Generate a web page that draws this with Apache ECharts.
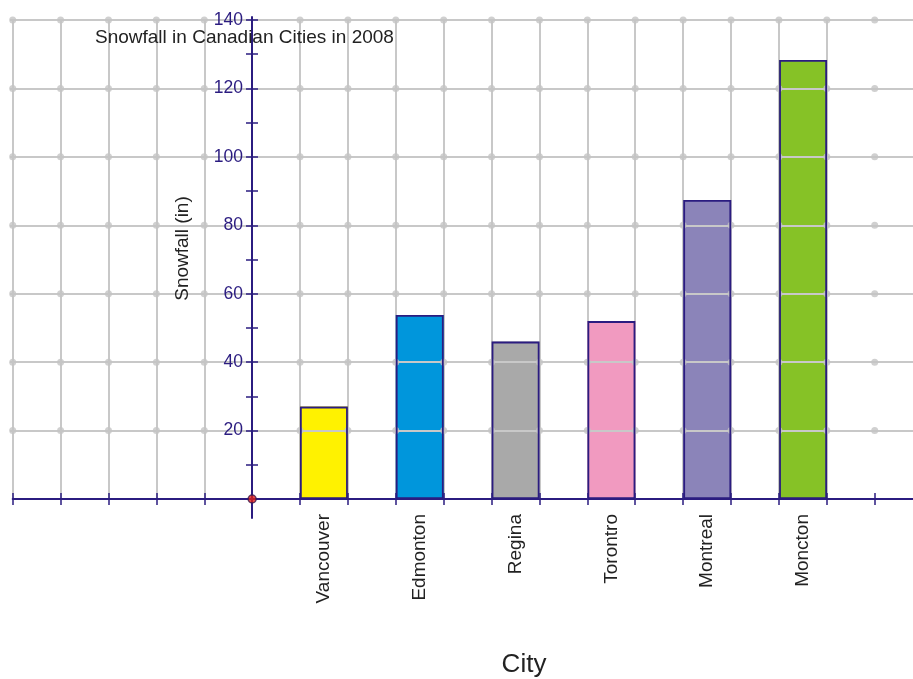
<!DOCTYPE html>
<html>
<head>
<meta charset="utf-8">
<script src="https://cdn.jsdelivr.net/npm/echarts@6/dist/echarts.min.js"></script>
<style>
html,body{margin:0;padding:0;background:#fff;}
#chart{width:913px;height:679px;}
</style>
</head>
<body>
<div id="chart"></div>
<script>
const categories = ['Vancouver', 'Edmonton', 'Regina', 'Torontro', 'Montreal', 'Moncton'];
const snowfall = [27, 53.8, 46, 52, 87.4, 128.3];
const barColors = ['#fff200', '#0096dc', '#a9a9a9', '#f19ac0', '#8b84b9', '#86c226'];
const yTicks = [0, 20, 40, 60, 80, 100, 120, 140];
const gridColumns = [-5, -4, -3, -2, -1, 0, 1, 2, 3, 4, 5, 6, 7, 8, 9, 10, 11, 12, 13];
const titleText = 'Snowfall in Canadian Cities in 2008';
const yName = 'Snowfall (in)';
const xName = 'City';

const NAVY = '#2b1c80';
const GRIDC = '#c8c8c8';
const FONT = 'Liberation Sans, Arial, sans-serif';

const dots = [];
gridColumns.forEach(c => {
  if (c === 0) return;
  yTicks.forEach(v => { if (v !== 0) dots.push([c, v]); });
});

const chart = echarts.init(document.getElementById('chart'), null, {renderer: 'canvas'});
const TOP = 20, BOTTOM = 180;
const option = {
  animation: false,
  backgroundColor: '#ffffff',
  title: {
    text: titleText, left: 95, top: 28, padding: 0,
    textStyle: {fontSize: 19, fontWeight: 'normal', color: '#222', fontFamily: FONT}
  },
  graphic: [
    {type: 'text', x: 183, y: 248.5, rotation: Math.PI / 2, z: 10,
     style: {text: yName, fontSize: 19, fontFamily: FONT, fill: '#222', align: 'center', verticalAlign: 'middle'}},
    {type: 'text', x: 524, y: 665, z: 10,
     style: {text: xName, fontSize: 26, fontFamily: FONT, fill: '#222', align: 'center', verticalAlign: 'middle'}}
  ],
  grid: [
    {left: 12.7, right: 0, top: TOP, bottom: BOTTOM},
    {left: 10, right: 0, top: TOP, bottom: BOTTOM},
    {left: 276, width: 575, top: TOP, bottom: BOTTOM},
    {left: 252, width: 10, top: TOP, bottom: BOTTOM},
    {left: 252, width: 10, top: 17, bottom: 161}
  ],
  xAxis: [
    {gridIndex: 0, type: 'value', min: -5, max: 13.8, interval: 1, z: 0,
     axisLine: {show: true, lineStyle: {color: NAVY, width: 2}},
     axisTick: {show: true, inside: false, length: 6, customValues: gridColumns, lineStyle: {color: NAVY, width: 1.5}},
     axisLabel: {show: false},
     splitLine: {show: true, showMinLine: true, showMaxLine: false, lineStyle: {color: GRIDC, width: 2}}},
    {gridIndex: 0, type: 'value', min: -5, max: 13.8, interval: 1, position: 'bottom', offset: 0, z: 6,
     axisLine: {show: false},
     axisTick: {show: true, inside: true, length: 6, customValues: gridColumns, lineStyle: {color: NAVY, width: 1.5}},
     axisLabel: {show: false}, splitLine: {show: false}},
    {gridIndex: 1, type: 'value', show: false, min: 0, max: 1},
    {gridIndex: 2, type: 'category', data: categories, z: 6,
     axisLine: {show: false}, axisTick: {show: false}, splitLine: {show: false},
     axisLabel: {interval: 0, rotate: 90, margin: 15, fontSize: 19, color: '#222', fontFamily: FONT}},
    {gridIndex: 3, type: 'value', show: false, min: 0, max: 1},
    {gridIndex: 4, type: 'value', show: false, min: 0, max: 1}
  ],
  yAxis: [
    {gridIndex: 0, type: 'value', show: false, min: 0, max: 140, interval: 20},
    {gridIndex: 1, type: 'value', min: 0, max: 140, interval: 20, z: 3,
     axisLine: {show: false}, axisTick: {show: false}, axisLabel: {show: false},
     splitLine: {show: true, showMinLine: false, lineStyle: {color: GRIDC, width: 2}}},
    {gridIndex: 2, type: 'value', show: false, min: 0, max: 140, interval: 20},
    {gridIndex: 3, type: 'value', min: 0, max: 140, interval: 20, position: 'left', z: 6,
     axisLine: {show: false},
     axisTick: {show: true, inside: false, length: 6, lineStyle: {color: NAVY, width: 1.5}},
     minorTick: {show: true, splitNumber: 2, length: 6, lineStyle: {color: NAVY, width: 1.5}},
     axisLabel: {show: true, margin: 9, fontSize: 17.5, color: NAVY, fontFamily: FONT,
                 formatter: v => (v === 0 ? '' : String(v))},
     splitLine: {show: false}},
    {gridIndex: 3, type: 'value', min: 0, max: 140, interval: 20, position: 'left', offset: 0, z: 6,
     axisLine: {show: false},
     axisTick: {show: true, inside: true, length: 6, lineStyle: {color: NAVY, width: 1.5}},
     minorTick: {show: true, splitNumber: 2, length: 6, lineStyle: {color: NAVY, width: 1.5}},
     axisLabel: {show: false}, splitLine: {show: false}},
    {gridIndex: 4, type: 'value', min: 0, max: 1, position: 'left', z: 6,
     axisLine: {show: true, lineStyle: {color: NAVY, width: 2}},
     axisTick: {show: false}, axisLabel: {show: false}, splitLine: {show: false}}
  ],
  series: [
    {type: 'bar', xAxisIndex: 3, yAxisIndex: 2, barWidth: '50%', z: 2,
     data: snowfall.map((v, i) => ({value: v, itemStyle: {color: barColors[i]}}))},
    {type: 'bar', xAxisIndex: 3, yAxisIndex: 2, barWidth: '50%', barGap: '-100%', z: 5,
     itemStyle: {color: 'rgba(0,0,0,0)', borderColor: NAVY, borderWidth: 1.8},
     data: snowfall.slice()},
    {type: 'scatter', xAxisIndex: 0, yAxisIndex: 0, z: 4, clip: false, silent: true,
     symbol: 'circle', symbolSize: 7, itemStyle: {color: '#c4c4c4'}, data: dots},
    {type: 'scatter', xAxisIndex: 0, yAxisIndex: 0, z: 8, clip: false, silent: true,
     symbol: 'circle', symbolSize: 8, itemStyle: {color: '#e0201a', borderColor: '#3a1a50', borderWidth: 1.5},
     data: [[0, 0]]}
  ]
};
chart.setOption(option);
</script>
</body>
</html>
